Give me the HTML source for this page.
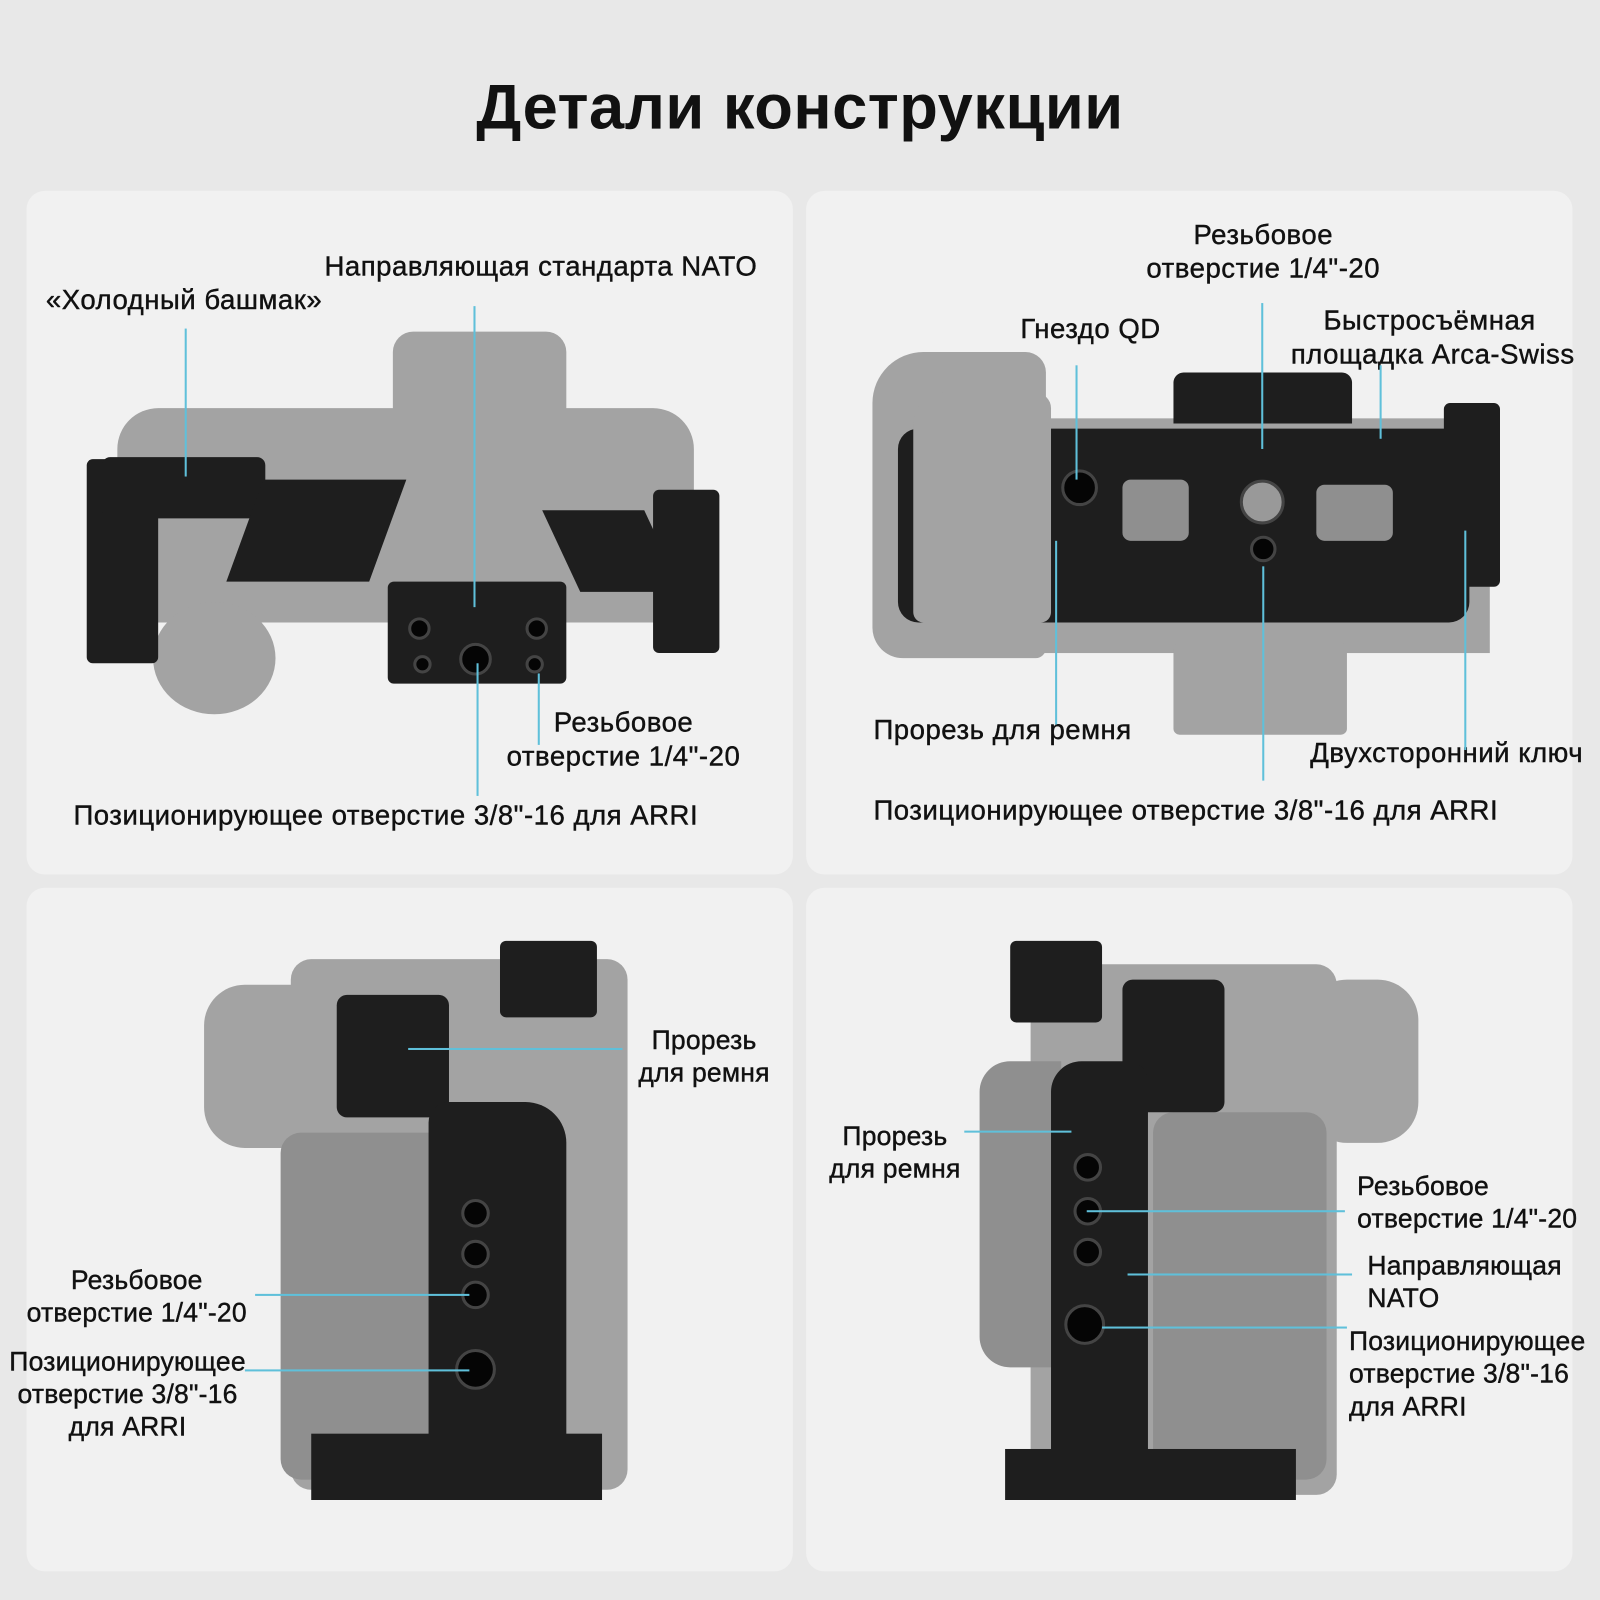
<!DOCTYPE html>
<html><head><meta charset="utf-8"><style>
*{margin:0;padding:0;box-sizing:border-box}
body{width:1600px;height:1600px;background:#e8e8e8;overflow:hidden;font-family:"Liberation Sans","DejaVu Sans",sans-serif;color:#111}
#w{position:absolute;left:0;top:0;width:1568px;height:1568px;transform:scale(1.020408);transform-origin:0 0}
.p{position:absolute;background:#f1f1f1;border-radius:18px}
.t{position:absolute;font-size:27px;line-height:33px;white-space:nowrap;letter-spacing:0.5px;-webkit-text-stroke:0.4px #111}
.s{font-size:26px;letter-spacing:0.2px;line-height:32px}
.c{text-align:center}
.v{position:absolute;width:2px;background:#5fc0da}
.h{position:absolute;height:2px;background:#5fc0da}
.g{position:absolute;background:#8f8f8f}
.lg{position:absolute;background:#a3a3a3}
.d{position:absolute;background:#1e1e1e}
.hole{position:absolute;border-radius:50%;background:#050505;border:3px solid #444}
</style></head><body><div id="w">
<div style="position:absolute;left:0;width:1568px;top:70px;text-align:center;font-size:62px;font-weight:bold;letter-spacing:0.5px">Детали конструкции</div>

<div class="p" style="left:26px;top:187px;width:751px;height:670px"></div>
<div class="p" style="left:790px;top:187px;width:751px;height:670px"></div>
<div class="p" style="left:26px;top:870px;width:751px;height:670px"></div>
<div class="p" style="left:790px;top:870px;width:751px;height:670px"></div>

<!-- TL camera -->
<div class="lg" style="left:385px;top:325px;width:170px;height:90px;border-radius:20px 20px 0 0"></div>
<div class="lg" style="left:115px;top:400px;width:565px;height:210px;border-radius:40px 40px 10px 10px"></div>
<div class="lg" style="left:150px;top:590px;width:120px;height:110px;border-radius:50%"></div>
<div class="d" style="left:85px;top:450px;width:70px;height:200px;border-radius:6px"></div>
<div class="d" style="left:100px;top:448px;width:160px;height:60px;border-radius:8px"></div>
<div class="d" style="left:240px;top:470px;width:140px;height:100px;transform:skewX(-20deg)"></div>
<div class="d" style="left:380px;top:570px;width:175px;height:100px;border-radius:6px"></div>
<div class="d" style="left:550px;top:500px;width:100px;height:80px;transform:skewX(25deg)"></div>
<div class="d" style="left:640px;top:480px;width:65px;height:160px;border-radius:6px"></div>
<div class="hole" style="left:400px;top:605px;width:22px;height:22px"></div>
<div class="hole" style="left:450px;top:630px;width:32px;height:32px"></div>
<div class="hole" style="left:515px;top:605px;width:22px;height:22px"></div>
<div class="hole" style="left:405px;top:642px;width:18px;height:18px"></div>
<div class="hole" style="left:515px;top:642px;width:18px;height:18px"></div>

<div class="t" style="left:45px;top:278px">«Холодный башмак»</div>
<div class="t" style="left:318px;top:245px">Направляющая стандарта NATO</div>
<div class="t c" style="left:480px;top:692px;width:262px">Резьбовое<br>отверстие 1/4"-20</div>
<div class="t" style="left:72px;top:783px">Позиционирующее отверстие 3/8"-16 для ARRI</div>
<div class="v" style="left:181px;top:322px;height:145px"></div>
<div class="v" style="left:464px;top:300px;height:295px"></div>
<div class="v" style="left:467px;top:650px;height:130px"></div>
<div class="v" style="left:527px;top:660px;height:70px"></div>

<!-- TR camera -->
<div class="lg" style="left:855px;top:345px;width:170px;height:300px;border-radius:50px 20px 10px 30px"></div>
<div class="lg" style="left:1020px;top:410px;width:440px;height:230px"></div>
<div class="lg" style="left:1150px;top:630px;width:170px;height:90px;border-radius:6px"></div>
<div class="d" style="left:1150px;top:365px;width:175px;height:50px;border-radius:10px 10px 0 0"></div>
<div class="d" style="left:880px;top:420px;width:560px;height:190px;border-radius:20px"></div>
<div class="lg" style="left:895px;top:385px;width:135px;height:225px;border-radius:30px 15px 10px 10px"></div>
<div class="g" style="left:1100px;top:470px;width:65px;height:60px;border-radius:8px"></div>
<div class="g" style="left:1290px;top:475px;width:75px;height:55px;border-radius:8px"></div>
<div class="d" style="left:1415px;top:395px;width:55px;height:180px;border-radius:6px"></div>
<div class="hole" style="left:1215px;top:470px;width:44px;height:44px;background:#999"></div>
<div class="hole" style="left:1040px;top:460px;width:36px;height:36px"></div>
<div class="hole" style="left:1225px;top:525px;width:26px;height:26px"></div>

<div class="t c" style="left:1108px;top:214px;width:260px">Резьбовое<br>отверстие 1/4"-20</div>
<div class="t" style="left:1000px;top:306px">Гнездо QD</div>
<div class="t c" style="left:1265px;top:298px;width:272px">Быстросъёмная<br>площадка Arca-Swiss</div>
<div class="t" style="left:856px;top:699px">Прорезь для ремня</div>
<div class="t" style="left:1284px;top:722px">Двухсторонний ключ</div>
<div class="t" style="left:856px;top:778px">Позиционирующее отверстие 3/8"-16 для ARRI</div>
<div class="v" style="left:1054px;top:358px;height:112px"></div>
<div class="v" style="left:1236px;top:297px;height:143px"></div>
<div class="v" style="left:1352px;top:358px;height:72px"></div>
<div class="v" style="left:1034px;top:530px;height:180px"></div>
<div class="v" style="left:1237px;top:555px;height:210px"></div>
<div class="v" style="left:1435px;top:520px;height:215px"></div>

<!-- BL camera -->
<div class="lg" style="left:200px;top:965px;width:140px;height:160px;border-radius:40px"></div>
<div class="lg" style="left:285px;top:940px;width:330px;height:520px;border-radius:20px"></div>
<div class="g" style="left:275px;top:1110px;width:170px;height:340px;border-radius:20px"></div>
<div class="d" style="left:490px;top:922px;width:95px;height:75px;border-radius:6px"></div>
<div class="d" style="left:330px;top:975px;width:110px;height:120px;border-radius:10px"></div>
<div class="d" style="left:420px;top:1080px;width:135px;height:380px;border-radius:20px 40px 0 0"></div>
<div class="d" style="left:305px;top:1405px;width:285px;height:65px"></div>
<div class="hole" style="left:452px;top:1175px;width:28px;height:28px"></div>
<div class="hole" style="left:452px;top:1215px;width:28px;height:28px"></div>
<div class="hole" style="left:452px;top:1255px;width:28px;height:28px"></div>
<div class="hole" style="left:446px;top:1322px;width:40px;height:40px"></div>

<div class="t s c" style="left:600px;top:1003px;width:180px">Прорезь<br>для ремня</div>
<div class="t s c" style="left:9px;top:1238px;width:250px">Резьбовое<br>отверстие 1/4"-20</div>
<div class="t s c" style="left:0px;top:1318px;width:250px">Позиционирующее<br>отверстие 3/8"-16<br>для ARRI</div>
<div class="h" style="left:400px;top:1027px;width:210px"></div>
<div class="h" style="left:250px;top:1268px;width:210px"></div>
<div class="h" style="left:240px;top:1342px;width:220px"></div>

<!-- BR camera -->
<div class="lg" style="left:1280px;top:960px;width:110px;height:160px;border-radius:40px"></div>
<div class="lg" style="left:1010px;top:945px;width:300px;height:520px;border-radius:20px"></div>
<div class="g" style="left:1130px;top:1090px;width:170px;height:360px;border-radius:20px"></div>
<div class="g" style="left:960px;top:1040px;width:80px;height:300px;border-radius:30px 0 0 30px"></div>
<div class="d" style="left:990px;top:922px;width:90px;height:80px;border-radius:6px"></div>
<div class="d" style="left:1100px;top:960px;width:100px;height:130px;border-radius:10px"></div>
<div class="d" style="left:1030px;top:1040px;width:95px;height:420px;border-radius:30px 20px 0 0"></div>
<div class="d" style="left:985px;top:1420px;width:285px;height:50px"></div>
<div class="hole" style="left:1052px;top:1130px;width:28px;height:28px"></div>
<div class="hole" style="left:1052px;top:1173px;width:28px;height:28px"></div>
<div class="hole" style="left:1052px;top:1213px;width:28px;height:28px"></div>
<div class="hole" style="left:1043px;top:1278px;width:40px;height:40px"></div>

<div class="t s c" style="left:797px;top:1097px;width:160px">Прорезь<br>для ремня</div>
<div class="t s" style="left:1330px;top:1146px">Резьбовое<br>отверстие 1/4"-20</div>
<div class="t s" style="left:1340px;top:1224px">Направляющая<br>NATO</div>
<div class="t s" style="left:1322px;top:1298px">Позиционирующее<br>отверстие 3/8"-16<br>для ARRI</div>
<div class="h" style="left:945px;top:1108px;width:105px"></div>
<div class="h" style="left:1065px;top:1186px;width:253px"></div>
<div class="h" style="left:1105px;top:1248px;width:220px"></div>
<div class="h" style="left:1080px;top:1300px;width:240px"></div>
</div></body></html>
